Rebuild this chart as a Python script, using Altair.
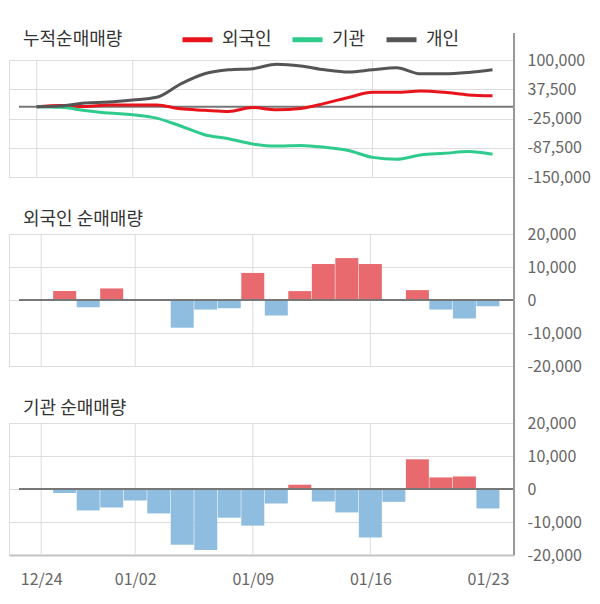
import altair as alt
import pandas as pd
from itertools import accumulate

# ---- data ----
dates = ["12/24", "12/26", "12/27", "12/28", "01/02", "01/03", "01/04", "01/07",
         "01/08", "01/09", "01/10", "01/11", "01/14", "01/15", "01/16", "01/17",
         "01/18", "01/21", "01/22", "01/23"]
# daily net volumes from 12/26 to 01/23
foreign_daily = [2700, -2200, 3500, 0, 0, -8400, -2900, -2500, 8200, -4700,
                 2700, 10900, 12700, 10900, 0, 3000, -2900, -5600, -1900]
inst_daily = [-1200, -6500, -5600, -3500, -7400, -16900, -18500, -8700, -11100, -4400,
              1300, -3800, -7100, -14700, -3900, 9000, 3500, 3800, -5900]
# individual cumulative net volume
indiv_cum = [0, 1500, 8000, 10000, 14500, 20300, 48700, 70500, 79000, 81400,
             90800, 87200, 79000, 74100, 79000, 83400, 70500, 70500, 73400, 79000]

investors = ["외국인", "기관", "개인"]
line_colors = ["#e8141c", "#2ecb8c", "#555555"]
top_ticks = [100000, 37500, -25000, -87500, -150000]
bar_ticks = [20000, 10000, 0, -10000, -20000]
grid_idx = [0, 4, 9, 14]
label_idx = [0, 4, 9, 14, 19]

W = 505
H_TOP = 117
H_BAR = 132
GAP = 57
FONT = "Noto Sans CJK KR"
LABEL_SIZE = 16
TITLE_SIZE = 18

foreign_cum = [0] + list(accumulate(foreign_daily))
inst_cum = [0] + list(accumulate(inst_daily))
n = len(dates)
idx = list(range(n))

line_df = pd.DataFrame({
    "idx": idx * 3,
    "investor": [investors[0]] * n + [investors[1]] * n + [investors[2]] * n,
    "value": foreign_cum + inst_cum + indiv_cum,
})
foreign_df = pd.DataFrame({"idx": idx[1:], "value": foreign_daily})
inst_df = pd.DataFrame({"idx": idx[1:], "value": inst_daily})
grid_df = pd.DataFrame({"idx": grid_idx})

x_scale = alt.Scale(domain=[-1.155, 19.896], nice=False, zero=False)
label_expr = "[" + ",".join("'" + d + "'" for d in dates) + "][datum.value]"

x_axis_bottom = alt.Axis(values=label_idx, tickCount=len(label_idx), labelExpr=label_expr,
                         grid=False, ticks=False,
                         domain=True, domainColor="#c4c4c4", domainWidth=2,
                         labelFontSize=LABEL_SIZE, labelColor="#666666", labelPadding=16,
                         labelFlush=False, labelOverlap=False, labelFont=FONT, title=None)


def x_enc(axis=None):
    return alt.X("idx:Q", scale=x_scale, axis=axis, title=None)


def y_axis(vals):
    return alt.Axis(orient="right", values=vals, tickCount=len(vals),
                    labelExpr="(datum.value < 0 ? '-' : '') + format(abs(datum.value), ',')",
                    grid=True, gridColor="#dddddd", gridWidth=1, ticks=False, tickSize=0,
                    domain=False, labelFontSize=LABEL_SIZE, labelColor="#666666",
                    labelPadding=13, labelFlush=False, labelOverlap=False,
                    labelFont=FONT, title=None)


def panel_title(text, dy):
    return alt.Chart(pd.DataFrame({"t": [text]})).mark_text(
        align="left", baseline="middle", fontSize=TITLE_SIZE, color="#333333", font=FONT
    ).encode(x=alt.value(14), y=alt.value(dy), text="t:N")


def axis_line(top, h):
    return alt.Chart(pd.DataFrame({"a": [0]})).mark_rule(
        color="#999999", strokeWidth=2
    ).encode(x=alt.value(W), y=alt.value(top), y2=alt.value(h))


def zero_line():
    return alt.Chart(pd.DataFrame({"a": [0]})).mark_rule(
        color="#777777", strokeWidth=2
    ).encode(x=alt.value(10), x2=alt.value(W), y=alt.datum(0))


def vgrid(axis=None):
    return alt.Chart(grid_df).mark_rule(color="#dddddd", strokeWidth=1).encode(x=x_enc(axis))


# ---- top panel: cumulative lines ----
lines = alt.Chart(line_df).mark_line(strokeWidth=3, interpolate="monotone").encode(
    x=x_enc(),
    y=alt.Y("value:Q", scale=alt.Scale(domain=[-150000, 100000], nice=False, zero=False),
            axis=y_axis(top_ticks), title=None),
    color=alt.Color("investor:N", sort=investors,
                    scale=alt.Scale(domain=investors, range=line_colors),
                    legend=alt.Legend(orient="none", legendX=171, legendY=-38,
                                      direction="horizontal", title=None,
                                      symbolType="stroke", symbolStrokeWidth=5,
                                      symbolSize=900, labelFontSize=TITLE_SIZE,
                                      labelColor="#333333", labelFont=FONT,
                                      labelOffset=7, columnPadding=10, padding=0)),
)
top = alt.layer(
    vgrid(), zero_line(), lines, panel_title("누적순매매량", -20), axis_line(-27, H_TOP)
).properties(width=W, height=H_TOP)


def bar_panel(df, title, axis=None):
    bars = alt.Chart(df).mark_bar(size=23).encode(
        x=x_enc(axis),
        y=alt.Y("value:Q", scale=alt.Scale(domain=[-20000, 20000], nice=False),
                axis=y_axis(bar_ticks), title=None),
        color=alt.condition("datum.value > 0", alt.value("#e8696e"), alt.value("#8fbde0")),
    )
    return alt.layer(
        vgrid(axis), bars, zero_line(), panel_title(title, -14), axis_line(-GAP, H_BAR)
    ).properties(width=W, height=H_BAR)


mid = bar_panel(foreign_df, "외국인 순매매량")
bot = bar_panel(inst_df, "기관 순매매량", x_axis_bottom)

chart = alt.vconcat(top, mid, bot, spacing=GAP, bounds="flush").properties(
    padding={"left": 0, "top": 14, "right": 0, "bottom": 0}
).configure_view(stroke=None, fill="#f4f4f4").configure(font=FONT)

chart.save("out.html", embed_options={"renderer": "svg", "actions": False})
